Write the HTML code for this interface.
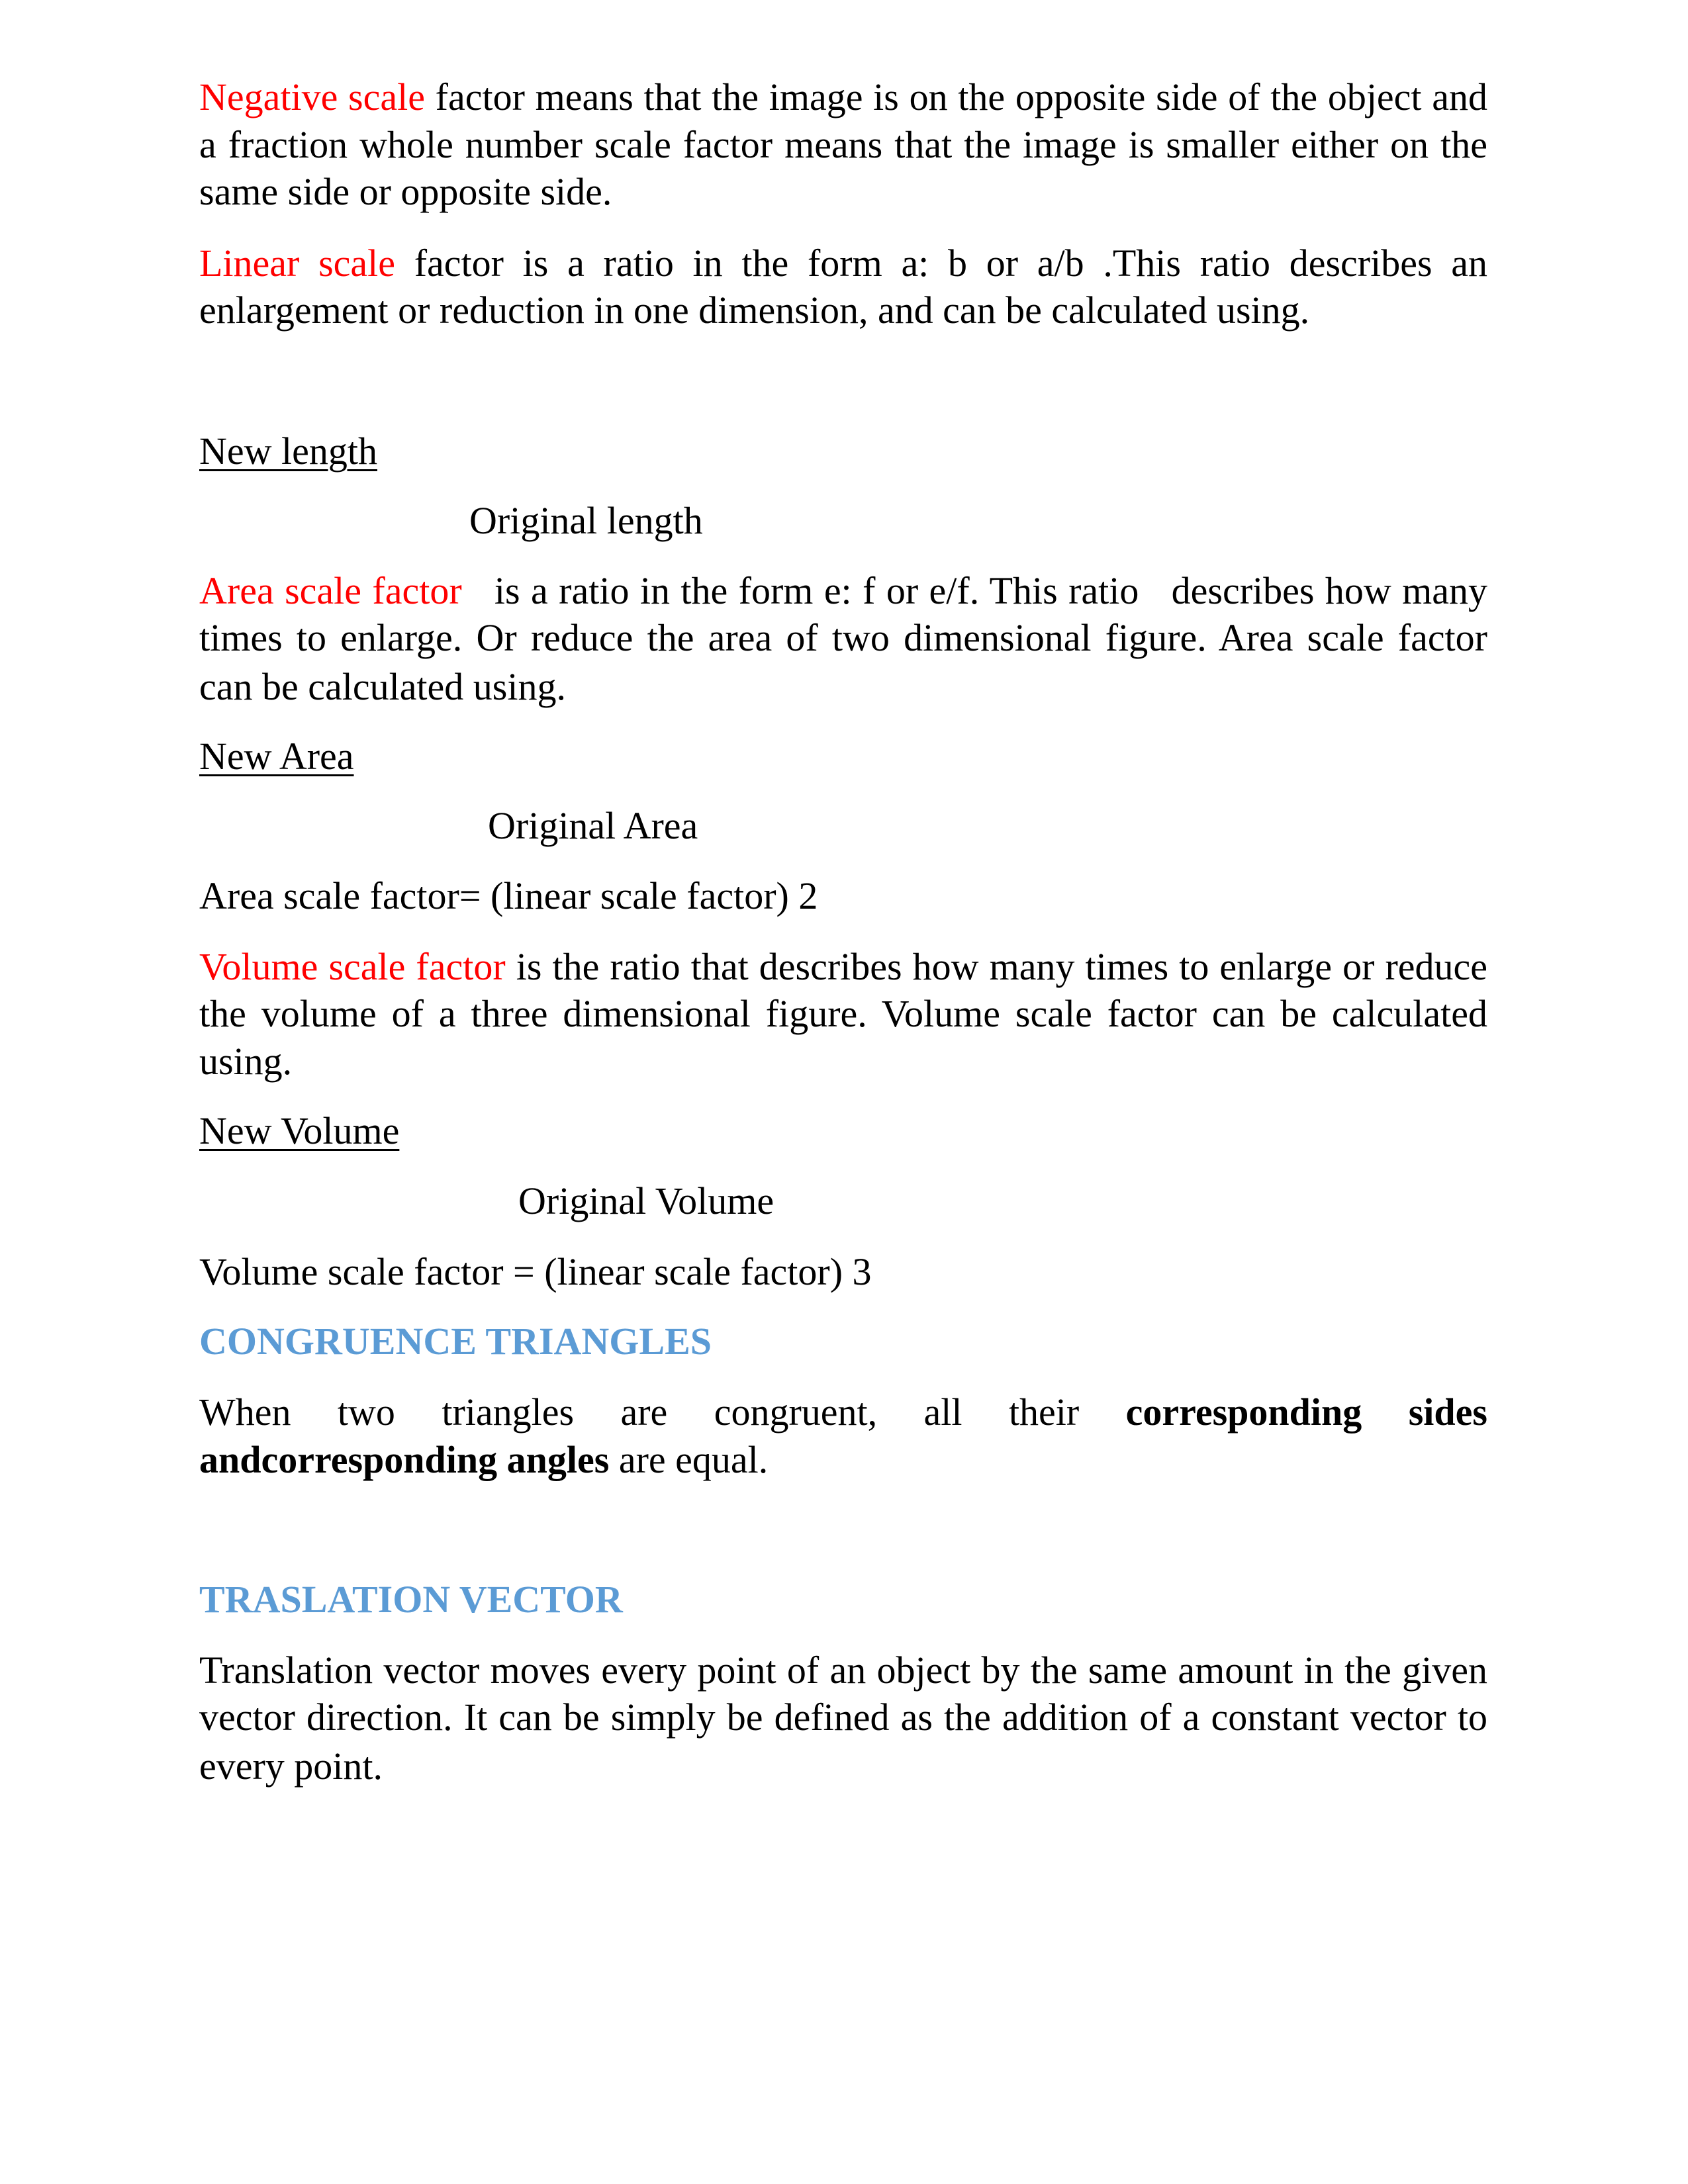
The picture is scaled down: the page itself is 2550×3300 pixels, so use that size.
<!DOCTYPE html>
<html><head><meta charset="utf-8"><style>
body{margin:0;width:2550px;height:3300px;background:#fff;position:relative;overflow:hidden;font-family:"Liberation Serif","Times New Roman",serif;font-size:58px;color:#000}
.l{position:absolute;left:301px;width:1944px;height:72px;line-height:72px;white-space:nowrap}
.j{text-align:justify;text-align-last:justify;white-space:normal;width:1946px}
.r{color:#f00}
.h{color:#5b9bd5;font-weight:bold}
u{text-decoration:underline;text-decoration-thickness:3px;text-underline-offset:8px}
</style></head><body>
<div class="l j" style="top:111px"><span class="r">Negative scale</span> factor means that the image is on the opposite side of the object and</div>
<div class="l j" style="top:183px">a fraction whole number scale factor means that the image is smaller either on the</div>
<div class="l" style="top:254px">same side or opposite side.</div>
<div class="l j" style="top:362px"><span class="r">Linear scale</span> factor is a ratio in the form a: b or a/b .This ratio describes an</div>
<div class="l" style="top:433px">enlargement or reduction in one dimension, and can be calculated using.</div>
<div class="l" style="top:646px"><u>New length</u></div>
<div class="l" style="top:751px;left:709px">Original length</div>
<div class="l j" style="top:857px"><span class="r">Area scale factor</span> &nbsp; is a ratio in the form e: f or e/f. This ratio &nbsp; describes how many</div>
<div class="l j" style="top:928px">times to enlarge. Or reduce the area of two dimensional figure. Area scale factor</div>
<div class="l" style="top:1002px">can be calculated using.</div>
<div class="l" style="top:1107px"><u>New Area</u></div>
<div class="l" style="top:1212px;left:737px">Original Area</div>
<div class="l" style="top:1318px">Area scale factor= (linear scale factor) 2</div>
<div class="l j" style="top:1425px"><span class="r">Volume scale factor</span> is the ratio that describes how many times to enlarge or reduce</div>
<div class="l j" style="top:1496px">the volume of a three dimensional figure. Volume scale factor can be calculated</div>
<div class="l" style="top:1568px">using.</div>
<div class="l" style="top:1673px"><u>New Volume</u></div>
<div class="l" style="top:1779px;left:783px">Original Volume</div>
<div class="l" style="top:1886px">Volume scale factor = (linear scale factor) 3</div>
<div class="l h" style="top:1991px">CONGRUENCE TRIANGLES</div>
<div class="l j" style="top:2098px">When two triangles are congruent, all their <b>corresponding sides</b></div>
<div class="l" style="top:2170px"><b>andcorresponding angles</b> are equal.</div>
<div class="l h" style="top:2381px">TRASLATION VECTOR</div>
<div class="l j" style="top:2488px">Translation vector moves every point of an object by the same amount in the given</div>
<div class="l j" style="top:2559px">vector direction. It can be simply be defined as the addition of a constant vector to</div>
<div class="l" style="top:2633px">every point.</div>
</body></html>
